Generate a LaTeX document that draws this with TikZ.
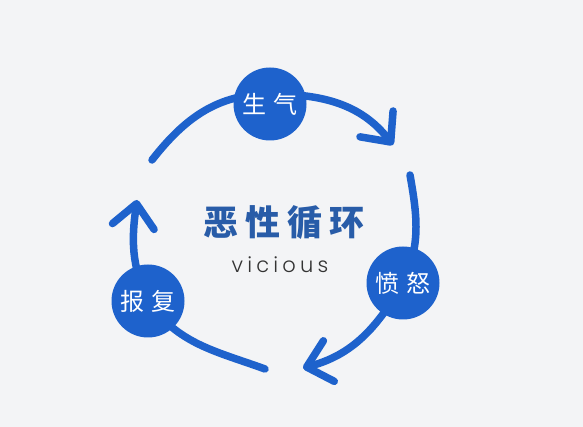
\documentclass[tikz,border=0pt]{standalone}
\usepackage{fontspec}
\newfontfamily\cjkfont{Noto Sans CJK SC}
\newfontfamily\latinfont{Poppins}[UprightFont={* Light}]
\usetikzlibrary{arrows.meta,calc,backgrounds}
\definecolor{ringblue}{RGB}{30,98,204}
\definecolor{titleblue}{RGB}{40,92,168}
\definecolor{paper}{RGB}{243,244,246}

\tikzset{
  ring/.style={ringblue, line width=7.5pt, line cap=round,
    -{Straight Barb[length=23pt,width=42pt,round]}},
  stage/.style={circle, fill=ringblue, minimum size=73pt, inner sep=0pt,
    text=white, font=\cjkfont\fontsize{24}{24}\selectfont},
}

\begin{document}
\begin{tikzpicture}[x=1pt,y=1pt]
\useasboundingbox (0,0) rectangle (583,427);

% the three stages
\node[stage] (anger) at (270,323) {生\hspace{8pt}气};
\node[stage] (fury) at (403,144) {愤\hspace{8pt}怒};
\node[stage] (revenge) at (148,126) {报\hspace{8pt}复};

% centre text
\node[text=titleblue, font=\cjkfont\bfseries\fontsize{35}{35}\selectfont] (name) at (284,204)
  {恶\hspace{7pt}性\hspace{7pt}循\hspace{7pt}环};
\node[anchor=base, text=black!80, font=\latinfont\addfontfeature{LetterSpace=20}\fontsize{21}{21}\selectfont] (sub) at (280,154) {vicious};

\coordinate (s1) at (152,267);
\coordinate (e1) at (393,282);
\coordinate (s2) at (410,252);
\coordinate (e2) at (303,59);
\coordinate (s3) at (265,58);
\coordinate (e3) at (137,227);

\begin{scope}[on background layer]
\fill[paper] (0,0) rectangle (583,427);
\draw[ring] (s1) to[out=52,in=180] ($(anger)+(0,10)$) to[out=0,in=128] (e1);
\draw[ring] (s2) to[out=-80,in=65] (fury.center) to[out=240,in=15] (e2);
\draw[ring] (s3) to[out=160,in=-55] (revenge.center) to[out=115,in=262] (e3);
\end{scope}
\end{tikzpicture}
\end{document}
